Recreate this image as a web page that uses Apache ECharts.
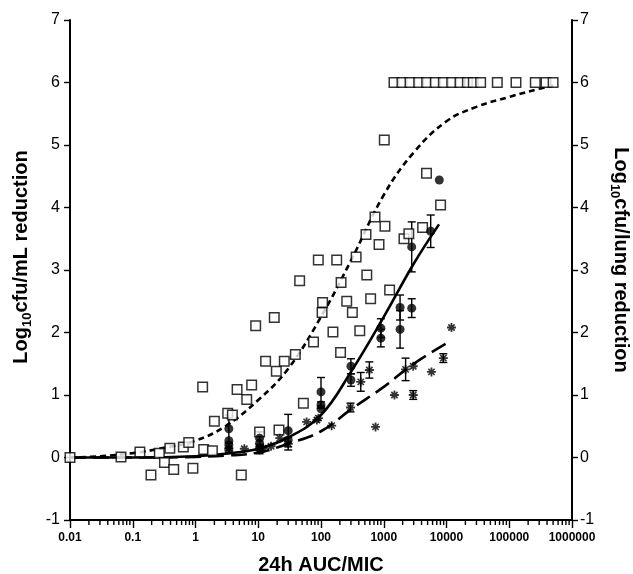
<!DOCTYPE html>
<html>
<head>
<meta charset="utf-8">
<style>
  html, body { margin: 0; padding: 0; background: #fff; }
  #chart-container { width: 633px; height: 574px; }
</style>
<script src="https://cdn.jsdelivr.net/npm/echarts@6.0.0/dist/echarts.min.js"></script>
</head>
<body>
<div id="chart-container"></div>
<script>
// open squares (in vitro, Log10cfu/mL)
const sqX = [0.01, 0.065, 0.13, 0.195, 0.265, 0.32, 0.39, 0.45, 0.64, 0.78, 0.91, 1.3, 1.35, 1.86, 2.0,
  3.26, 3.87, 4.6, 5.37, 6.55, 7.85, 9.1, 10.5, 13.1, 18, 19.4, 21.4, 26, 39, 45.7, 52.4, 76, 90.6,
  106, 104, 155, 178, 205, 209, 257, 316, 363, 415, 521, 537, 618, 725, 841, 1020, 1045, 1240,
  2100, 2510, 4160, 4800, 8050,
  1455, 1950, 2620, 3600, 4830, 6620, 8900, 12100, 16400, 21500, 26700, 35000, 64500, 128000,
  260000, 385000, 500000];
const sqY = [0, 0.01, 0.09, -0.28, 0.07, -0.08, 0.15, -0.19, 0.17, 0.24, -0.17, 1.13, 0.13, 0.11, 0.58,
  0.71, 0.68, 1.09, -0.28, 0.93, 1.16, 2.11, 0.41, 1.54, 2.24, 1.38, 0.44, 1.54, 1.65, 2.83, 0.87, 1.85, 3.16,
  2.48, 2.32, 2.01, 3.16, 1.68, 2.80, 2.50, 2.32, 3.21, 2.03, 3.57, 2.92, 2.54, 3.85, 3.41, 5.08, 3.70, 2.68,
  3.50, 3.58, 3.68, 4.55, 4.04,
  6, 6, 6, 6, 6, 6, 6, 6, 6, 6, 6, 6, 6, 6,
  6, 6, 6];

// filled circles (Log10cfu/lung) with SD
const circX = [3.4, 3.4, 3.4, 3.4, 10.5, 10.5, 10.5, 30, 30, 100, 100, 100, 300, 300, 900, 900,
  1820, 1820, 2790, 2790, 5600, 7680];
const circY = [0.46, 0.27, 0.2, 0.12, 0.31, 0.23, 0.15, 0.43, 0.28, 1.05, 0.84, 0.78, 1.46, 1.24, 2.07, 1.91,
  2.4, 2.05, 2.39, 3.37, 3.62, 4.44];
const circErr = [0.22, 0, 0, 0, 0.1, 0, 0, 0.26, 0, 0.23, 0.05, 0, 0.12, 0.1, 0.15, 0.14,
  0.2, 0.3, 0.15, 0.4, 0.26, 0];

// asterisks (Log10cfu/lung) with SD
const astX = [3.4, 6, 10.5, 12, 16, 22, 30, 59, 86, 91, 148, 295, 430, 590, 740, 1480, 2230, 2950, 2950,
  5760, 8900, 12000];
const astY = [0.15, 0.14, 0.12, 0.15, 0.18, 0.31, 0.22, 0.57, 0.6, 0.63, 0.51, 0.8, 1.21, 1.4, 0.49, 1.0, 1.41,
  1.46, 1.0, 1.37, 1.59, 2.08];
const astErr = [0.08, 0, 0.06, 0, 0, 0, 0.1, 0, 0, 0, 0, 0.07, 0.15, 0.13, 0, 0, 0.18, 0, 0.07,
  0, 0.07, 0];

// fitted curves
const sqFitX = [0.01, 0.03, 0.1, 0.3, 1, 3, 10, 30, 100, 300, 1000, 3000, 10000, 30000, 100000, 300000, 500000];
const sqFitY = [0, 0.02, 0.07, 0.15, 0.27, 0.5, 0.92, 1.42, 2.25, 3.15, 4.2, 4.88, 5.38, 5.61, 5.77, 5.9, 5.95];
const circFitX = [0.01, 0.1, 1, 3, 10, 30, 100, 300, 1000, 3000, 7600];
const circFitY = [0, 0, 0.02, 0.06, 0.14, 0.32, 0.68, 1.37, 2.25, 3.1, 3.73];
const astFitX = [0.01, 0.1, 1, 3, 10, 30, 100, 300, 1000, 3000, 10500];
const astFitY = [0, 0, 0.01, 0.03, 0.08, 0.22, 0.42, 0.77, 1.13, 1.5, 1.84];

// axis labels
const xTickLabels = ['0.01', '0.1', '1', '10', '100', '1000', '10000', '100000', '1000000'];
const decades = [0.01, 0.1, 1, 10, 100, 1000, 10000, 100000];
const minorSteps = [2, 3, 4, 5, 6, 7, 8, 9];

const FONT = 'Liberation Sans, Arial, sans-serif';

const pairs = (xs, ys) => xs.map((x, i) => [x, ys[i]]);
const withErr = (xs, ys, es) => xs.map((x, i) => [x, ys[i], es[i]]).filter((d) => d[2] > 0);

const minorTicks = [];
decades.forEach((d) => minorSteps.forEach((m) => minorTicks.push([d * m, -1])));

const ASTERISK = 'path://M-1,-5L1,-5L1,5L-1,5Z M-5,-1L5,-1L5,1L-5,1Z ' +
  'M-4.14,-2.86L-2.86,-4.14L4.14,2.86L2.86,4.14Z M2.86,-4.14L4.14,-2.86L-2.86,4.14L-4.14,2.86Z';

function renderErrorBar(params, api) {
  const x = api.value(0);
  const y = api.value(1);
  const e = api.value(2);
  const top = api.coord([x, y + e]);
  const bot = api.coord([x, y - e]);
  const cap = 4;
  const style = { stroke: '#000', lineWidth: 1.4 };
  return {
    type: 'group',
    children: [
      { type: 'line', shape: { x1: top[0], y1: top[1], x2: bot[0], y2: bot[1] }, style },
      { type: 'line', shape: { x1: top[0] - cap, y1: top[1], x2: top[0] + cap, y2: top[1] }, style },
      { type: 'line', shape: { x1: bot[0] - cap, y1: bot[1], x2: bot[0] + cap, y2: bot[1] }, style },
    ],
  };
}

function renderMinorTick(params, api) {
  const p = api.coord([api.value(0), api.value(1)]);
  return {
    type: 'line',
    shape: { x1: p[0], y1: p[1], x2: p[0], y2: p[1] + 5 },
    style: { stroke: '#000', lineWidth: 1.4 },
  };
}

const titleRich = {
  b: { fontFamily: FONT, fontSize: 20, fontWeight: 'bold', color: '#000' },
  s: { fontFamily: FONT, fontSize: 13, fontWeight: 'bold', color: '#000', verticalAlign: 'bottom', lineHeight: 26 },
};

const yAxisBase = {
  type: 'value',
  min: -1,
  max: 7,
  interval: 1,
  splitLine: { show: false },
  axisLine: { show: true, onZero: false, lineStyle: { color: '#000', width: 2 } },
  axisTick: { show: true, length: 6, lineStyle: { color: '#000', width: 1.4 } },
  nameLocation: 'middle',
  nameGap: 36,
};

const chart = echarts.init(document.getElementById('chart-container'), null, { renderer: 'canvas' });

chart.setOption({
  animation: false,
  backgroundColor: '#fff',
  grid: { left: 70, right: 61, top: 20, bottom: 54, containLabel: false, outerBoundsMode: 'none' },
  xAxis: {
    type: 'log',
    logBase: 10,
    min: 0.01,
    max: 1000000,
    splitLine: { show: false },
    axisLine: { onZero: false, lineStyle: { color: '#000', width: 2 } },
    axisTick: { length: 8, lineStyle: { color: '#000', width: 1.4 } },
    axisLabel: {
      fontFamily: FONT,
      fontSize: 12,
      fontWeight: 'bold',
      color: '#000',
      margin: 12,
      formatter: (v, i) => xTickLabels[i],
    },
    name: '24h AUC/MIC',
    nameLocation: 'middle',
    nameGap: 35,
    nameTextStyle: { fontFamily: FONT, fontSize: 20, fontWeight: 'bold', color: '#000' },
  },
  yAxis: [
    Object.assign({}, yAxisBase, {
      position: 'left',
      name: '{b|Log}{s|10}{b|cfu/mL reduction}',
      nameRotate: 90,
      nameTextStyle: { rich: titleRich, padding: [0, 0, 0, 26] },
      axisLabel: { fontFamily: FONT, fontSize: 16, color: '#000', margin: 10 },
    }),
    Object.assign({}, yAxisBase, {
      position: 'right',
      name: '{b|Log}{s|10}{b|cfu/lung reduction}',
      nameRotate: -90,
      nameTextStyle: { rich: titleRich, padding: [0, 20, 0, 0] },
      axisLabel: { fontFamily: FONT, fontSize: 16, color: '#000', margin: 8 },
    }),
  ],
  series: [
    {
      type: 'custom',
      silent: true,
      renderItem: renderMinorTick,
      data: minorTicks,
    },
    {
      type: 'line',
      data: pairs(sqFitX, sqFitY),
      smooth: 0.4,
      showSymbol: false,
      lineStyle: { color: '#000', width: 2.6, type: [6, 4] },
      z: 2,
    },
    {
      type: 'line',
      data: pairs(circFitX, circFitY),
      smooth: 0.4,
      showSymbol: false,
      lineStyle: { color: '#000', width: 2.6 },
      z: 2,
    },
    {
      type: 'line',
      data: pairs(astFitX, astFitY),
      smooth: 0.4,
      showSymbol: false,
      lineStyle: { color: '#000', width: 2.6, type: [16, 7] },
      z: 2,
    },
    {
      type: 'custom',
      renderItem: renderErrorBar,
      data: withErr(circX, circY, circErr),
      z: 3,
    },
    {
      type: 'custom',
      renderItem: renderErrorBar,
      data: withErr(astX, astY, astErr),
      z: 3,
    },
    {
      type: 'scatter',
      data: pairs(sqX, sqY),
      symbol: 'rect',
      symbolSize: 9.5,
      itemStyle: { color: '#fff', borderColor: '#000', borderWidth: 1.5 },
      z: 4,
    },
    {
      type: 'scatter',
      data: pairs(circX, circY),
      symbol: 'circle',
      symbolSize: 9,
      itemStyle: { color: '#000' },
      z: 5,
    },
    {
      type: 'scatter',
      data: pairs(astX, astY),
      symbol: ASTERISK,
      symbolSize: 9,
      itemStyle: { color: '#000' },
      z: 5,
    },
  ],
});
</script>
</body>
</html>
